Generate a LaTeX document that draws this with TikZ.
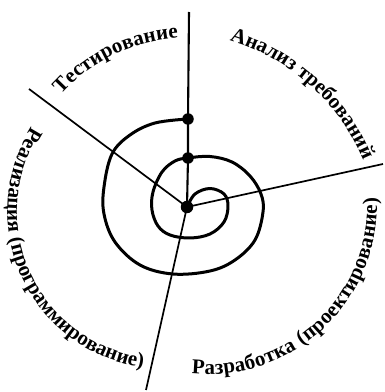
\documentclass[tikz,border=0pt]{standalone}
\usepackage{fontspec}
\setmainfont{Liberation Serif}
\newfontfamily\labelfamily{Liberation Serif}
\newcommand{\lblfont}{\labelfamily\bfseries\fontsize{21}{24}\selectfont}
\usetikzlibrary{decorations.text}
\begin{document}
\begin{tikzpicture}[x=1pt,y=1pt,
  spiralline/.style={line width=3pt, line cap=round, line join=round},
  radial/.style={line width=1.7pt},
  axisline/.style={line width=2.1pt},
  dotnode/.style={circle, fill=black, inner sep=0pt, minimum size=11.5pt},
  arclabel/.style={decorate, decoration={text along path, text align=fit to path, text={|\lblfont|#1}}}
]
\useasboundingbox (0,0) rectangle (384,392);
% end points of the radial lines
\coordinate (top) at (189,380);
\coordinate (ul) at (29,303);
\coordinate (rt) at (383,228);
\coordinate (bt) at (146,2);
% dots
\node[dotnode, minimum size=12.5pt] (c) at (187,185) {};
\node[dotnode] (d2) at (188,234) {};
\node[dotnode] (d1) at (188,273) {};
% radial lines
\draw[axisline] (top) -- (d1.center) -- (d2.center) -- (c.center);
\draw[radial] (ul) -- (c.center);
\draw[radial] (c.center) -- (rt);
\draw[radial] (c.center) -- (bt);
% spiral
\draw[spiralline] plot[smooth, tension=0.6] coordinates {
 (187,185) (195,198) (210,203.5) (224,198) (228,186) (224,170) (210,158)
 (190,154) (170,157) (158,166) (152,182) (153,200) (162,220) (175,231)
 (188,234) (210,235.5) (232,230) (250,216) (261,198) (263,180) (255,152)
 (235,132) (210,121) (173,118) (140,127) (115,150) (104,178) (104,205)
 (112,238) (130,257) (155,269) (188,273)};
% labels
\path[arclabel=Тестирование] (187,185) ++(138.2:169) arc[start angle=138.2, end angle=93, radius=169];
\path[arclabel=Анализ требований] (168,149) ++(73.1:212) arc[start angle=73.1, end angle=24, radius=212];
\path[arclabel=Разработка (проектирование)] (207.5,187) ++(-95.4:169.5) arc[start angle=-95.4, end angle=2.5, radius=169.5];
\path[arclabel=Реализация (программирование)] (164.6,180.4) ++(147.4:157.3) arc[start angle=147.4, end angle=262.1, radius=157.3];
\end{tikzpicture}
\end{document}
